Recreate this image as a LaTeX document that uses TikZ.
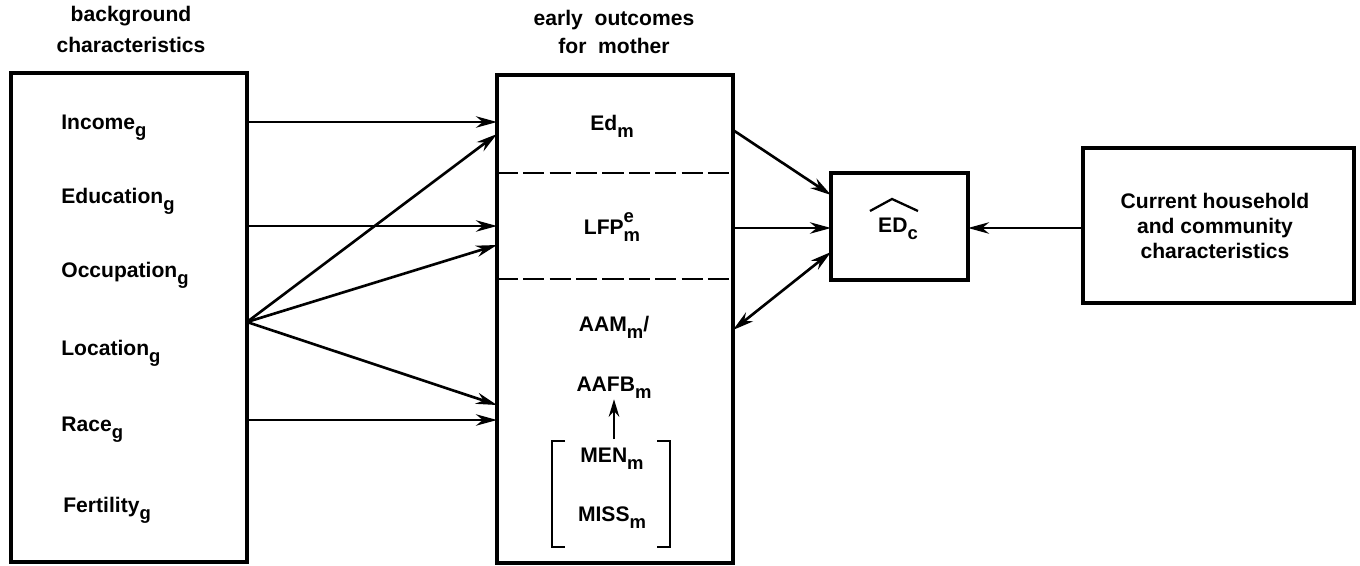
\documentclass[tikz,border=0pt]{standalone}
\usepackage{fontspec}
\setmainfont{Liberation Sans}
\usetikzlibrary{arrows.meta}
\newcommand{\lo}[1]{\raisebox{-0.65ex}{\fontsize{10.5}{10.5}\selectfont #1}}
\newcommand{\hi}[1]{\raisebox{1.1ex}{\fontsize{10.5}{10.5}\selectfont #1}}
\begin{document}
\begin{tikzpicture}[x=0.02cm,y=-0.02cm,
  font=\fontsize{12}{14}\selectfont\bfseries,
  box/.style={draw,line width=1.9pt,outer sep=0pt,inner sep=0pt},
  lbl/.style={inner sep=0pt,anchor=west},
  ctr/.style={inner sep=0pt},
  arr/.style={line width=1.5pt,-{Stealth[length=12pt,width=6.5pt]}},
  darr/.style={line width=1.5pt,{Stealth[length=12pt,width=6.5pt]}-{Stealth[length=12pt,width=6.5pt]}},
  sep/.style={line width=1.6pt,dash pattern=on 12pt off 3pt}]
\useasboundingbox (0,0) rectangle (1360,565);
% boxes
\node[box,minimum width=4.72cm,minimum height=9.78cm] (L) at (129,317.5) {};
\node[box,minimum width=4.72cm,minimum height=9.76cm] (M) at (615,319) {};
\node[box,minimum width=2.74cm,minimum height=2.14cm] (E) at (899.5,226.5) {};
\node[box,minimum width=5.42cm,minimum height=3.1cm] (R) at (1218.5,225.5) {};
% titles
\node[ctr] (t1) at (131,16) {background};
\node[ctr] (t2) at (131,45) {characteristics};
\node[ctr] (t3) at (614,20) {early\ \ outcomes};
\node[ctr] (t4) at (614,46) {for\ \ mother};
% left labels
\node[lbl] (inc) at (61,128) {Income\lo{g}};
\node[lbl] (edu) at (61,201) {Education\lo{g}};
\node[lbl] (occ) at (61,275) {Occupation\lo{g}};
\node[lbl] (loc) at (61,353) {Location\lo{g}};
\node[lbl] (rac) at (61,430) {Race\lo{g}};
\node[lbl] (fer) at (63,510) {Fertility\lo{g}};
% middle labels
\node[ctr] (edm) at (612,126) {Ed\lo{m}};
\node[ctr] (lfp) at (612,227) {LFP\rlap{\hi{e}}\lo{m}};
\node[ctr] (aam) at (614,327) {AAM\lo{m}/};
\node[ctr] (aafb) at (614,388) {AAFB\lo{m}};
\node[ctr] (men) at (612,459) {MEN\lo{m}};
\node[ctr] (miss) at (612,518) {MISS\lo{m}};
% separators
\draw[sep] (M.west |- 0,173) -- (M.east |- 0,173);
\draw[sep] (M.west |- 0,279) -- (M.east |- 0,279);
% bracket
\draw[line width=1.6pt] (565,441) -- (552,441) -- (552,547) -- (565,547);
\draw[line width=1.6pt] (657,441) -- (670,441) -- (670,547) -- (657,547);
\coordinate (brtop) at (614,439);
\draw[line width=1.4pt,-{Stealth[length=10pt,width=6pt]}] (brtop) -- (aafb.south -| brtop);
% EDc
\node[ctr] (edc) at (898,229) {ED\lo{c}};
\draw[line width=1.3pt] (870,211) -- (892,199) -- (918,211);
% right text
\node[ctr,align=center] (cur) at (1215,226) {Current household\\and community\\characteristics};
% arrows left -> middle
\coordinate (fan) at (L.east |- 0,322);
\draw[arr] (L.east |- 0,122) -- (M.west |- 0,122);
\draw[arr] (L.east |- 0,226) -- (M.west |- 0,226);
\draw[arr] (L.east |- 0,420) -- (M.west |- 0,420);
\draw[arr] (fan) -- (M.west |- 0,134);
\draw[arr] (fan) -- (M.west |- 0,245);
\draw[arr] (fan) -- (M.west |- 0,405);
% middle -> EDc
\draw[arr] (M.east |- 0,130) -- (E.west |- 0,195);
\draw[arr] (M.east |- 0,228) -- (E.west |- 0,228);
\draw[darr] (E.west |- 0,252) -- (M.east |- 0,330);
\draw[arr] (R.west |- 0,228) -- (E.east |- 0,228);
\end{tikzpicture}
\end{document}
